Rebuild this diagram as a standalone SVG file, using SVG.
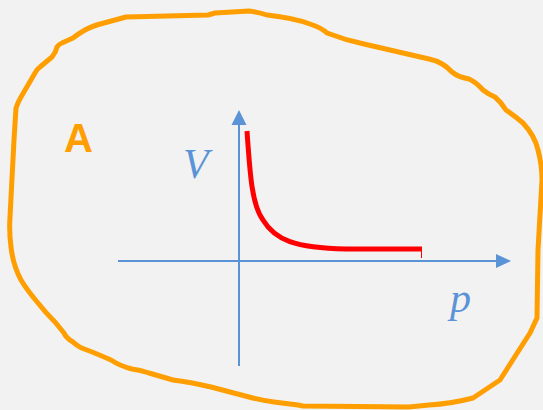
<svg xmlns="http://www.w3.org/2000/svg" width="543" height="410" viewBox="0 0 543 410">
<defs>
<style>
.blob{fill:none;stroke:#FF9E00;stroke-width:5;stroke-linejoin:round;stroke-linecap:round}
.axis{fill:none;stroke:#5B93D7;stroke-width:2}
.ah{fill:#5B93D7}
.lbl{font-family:"Liberation Serif",serif;font-style:italic;font-size:42px;fill:#5B93D7}
.curve{fill:none;stroke:#FF0000;stroke-width:5}
</style>
</defs>
<rect width="543" height="410" fill="#F2F2F2"/>
<g id="region-A">
<path class="blob" d="M126,17 L208,15 L215,13 L249,11 Q258,12 267,15 Q294,18 310,24 Q322,28 327,33 Q345,40 364,44 L429,59 Q443,62 452,72 Q458,77 469,79 Q476,82 483,90 Q488,94 495,97 Q501,102 506,110 Q516,117 523,123 Q535,136 538,150 Q542,165 542,180 L538,250 L537,318 L530,333 L514,358 L500,380 L473,398 Q450,404 429,405 L409,407 L303,406 L298,405 L274,402 Q260,400 249,397 L211,387 Q190,382 173,380 L149,373 Q140,370 132,369 Q120,366 111,360 Q95,353 87,350 Q78,347 73,342 Q66,338 64,333 L55,322 Q45,312 38,303 Q27,290 21,280 Q13,265 11,247 Q9,232 10,217 L14,140 L16,108 Q18,102 21,97 L35,73 Q37,69 40,67 L52,57 Q56,52 57,47 Q59,44 62,43 L73,38 Q78,34 85,30 Q92,26 104,23 Q115,20 126,17 Z"/>
<text x="64" y="152" font-family="Liberation Sans, Arial, sans-serif" font-weight="bold" font-size="40" fill="#FF9E00">A</text>
</g>
<g id="connectors">
<line class="axis" x1="118" y1="261" x2="497" y2="261"/>
<polygon class="ah" points="511,261 496,254 496,268"/>
<line class="axis" x1="239" y1="366" x2="239" y2="124"/>
<polygon class="ah" points="239,110 231.5,125 246.5,125"/>
</g>
<g id="curve">
<path class="curve" d="M247,131 C250,175 252,205 263,220 C275,240 295,248 346,249 L422,249"/>
<line x1="421.5" y1="249" x2="421.5" y2="258" stroke="#FF0000" stroke-width="1"/>
</g>
<g id="labels">
<text class="lbl" x="183" y="178">V</text>
<text class="lbl" x="450" y="312">p</text>
</g>
</svg>
